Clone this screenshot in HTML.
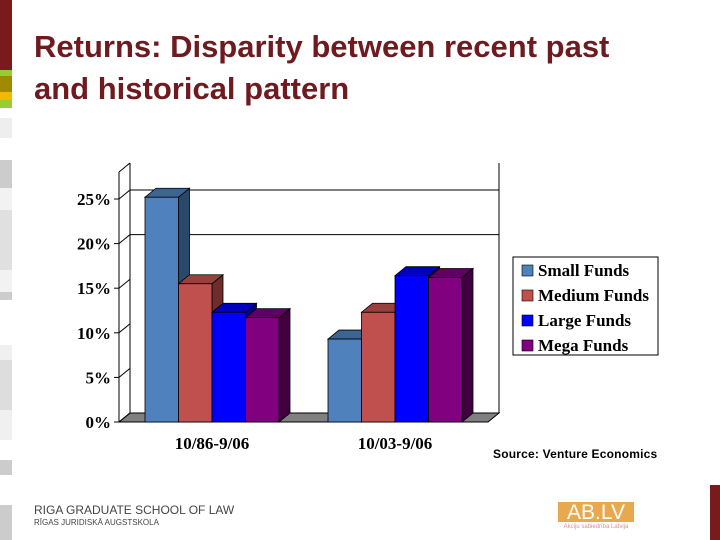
<!DOCTYPE html>
<html><head><meta charset="utf-8"><style>
body{margin:0;width:720px;height:540px;background:#fff;position:relative;overflow:hidden;font-family:"Liberation Sans",sans-serif}
.a{position:absolute}
</style></head><body>
<div class="a" style="left:0;top:0;width:12px;height:540px;background:linear-gradient(#7a1a1a 0 70px,#9c3 70px 76px,#a08a00 76px 92px,#f5b800 92px 100px,#9c3 100px 108px,#fff 108px 118px,#eee 118px 138px,#fff 138px 160px,#ccc 160px 188px,#f2f2f2 188px 210px,#e0e0e0 210px 270px,#f2f2f2 270px 292px,#ccc 292px 300px,#fff 300px 345px,#f0f0f0 345px 360px,#ddd 360px 410px,#f0f0f0 410px 440px,#fff 440px 460px,#ccc 460px 475px,#fff 475px 505px,#ccc 505px 540px)"></div>
<div class="a" style="left:34px;top:26px;font-size:31px;font-weight:bold;color:#6e1a1e;line-height:42px;white-space:nowrap">Returns: Disparity between recent past<br>and historical pattern</div>
<svg class="a" style="left:0;top:0" width="720" height="540">
<g id="c"></g>
</svg>
<div class="a" style="left:493px;top:447px;font-size:12px;font-weight:bold;letter-spacing:0.2px">Source: Venture Economics</div>
<div class="a" style="left:34px;top:505px;font-size:12px;color:#444;line-height:11px">RIGA GRADUATE SCHOOL OF LAW<br><span style="font-size:8px">RĪGAS JURIDISKĀ AUGSTSKOLA</span></div>
<div class="a" style="left:558px;top:502px;width:76px;height:20px;background:#e8a94e;color:#fff;font-size:21px;text-align:center;line-height:21px">AB.LV</div>
<div class="a" style="left:558px;top:524px;width:76px;font-size:6px;color:#c98;text-align:center">Akciju sabiedrība Latvija</div>
<div class="a" style="left:710px;top:485px;width:10px;height:55px;background:#7a1a1a"></div>
<script>
const categories=["10/86-9/06","10/03-9/06"];
const seriesNames=["Small Funds","Medium Funds","Large Funds","Mega Funds"];
const small=[25.2,9.3];
const medium=[15.5,12.3];
const large=[12.3,16.4];
const mega=[11.7,16.2];
const yTicks=[0,5,10,15,20,25];
const series=[small,medium,large,mega];
const colors=[["#4f81bd","#3c6593","#2a4869"],["#c0504d","#99403d","#6e2d2b"],["#0000ff","#0000c0","#00008a"],["#800080","#600060","#400040"]];
const NS="http://www.w3.org/2000/svg",g=document.getElementById('c');
const X0=119,Y0=422,DX=11,DY=-9,PX=8.92,XR=488;
const y=v=>Y0-v*PX;
function el(t,a,p){const e=document.createElementNS(NS,t);for(const k in a)e.setAttribute(k,a[k]);(p||g).appendChild(e);return e;}
let e=el('polygon',{points:`${X0+DX},${Y0+DY} ${XR+DX},${Y0+DY} ${XR},${Y0} ${X0},${Y0}`,fill:'#808080',stroke:'#000'});

el('line',{x1:X0+DX,y1:163,x2:X0+DX,y2:Y0+DY,stroke:'#000'});
el('line',{x1:XR+DX,y1:163,x2:XR+DX,y2:Y0+DY,stroke:'#000'});
el('line',{x1:X0,y1:172,x2:X0,y2:Y0,stroke:'#000'});
el('line',{x1:X0,y1:172,x2:X0+DX,y2:163,stroke:'#000'});
yTicks.forEach(t=>{
 if(t>0&&t>=20){e=el('line',{x1:X0+DX,y1:y(t)+DY,x2:XR+DX,y2:y(t)+DY,stroke:'#000'});}
 el('line',{x1:X0-5,y1:y(t),x2:X0,y2:y(t),stroke:'#000'});
 el('line',{x1:X0,y1:y(t),x2:X0+DX,y2:y(t)+DY,stroke:'#000'});
 e=el('text',{x:X0-8,y:y(t)+6,'text-anchor':'end','font-family':'Liberation Serif','font-weight':'bold','font-size':17});
 e.textContent=t+'%';
});
const gStart=[145,328],bw=33.5;
categories.forEach((c,ci)=>{
 series.forEach((s,si)=>{
  const x=gStart[ci]+si*bw,t=y(s[ci]),col=colors[si];
  const b=el('g',{});
  el('polygon',{points:`${x+bw},${t} ${x+bw+DX},${t+DY} ${x+bw+DX},${Y0+DY} ${x+bw},${Y0}`,fill:col[2],stroke:'#000','stroke-width':.8},b);
  el('polygon',{points:`${x},${t} ${x+DX},${t+DY} ${x+bw+DX},${t+DY} ${x+bw},${t}`,fill:col[1],stroke:'#000','stroke-width':.8},b);
  el('rect',{x:x,y:t,width:bw,height:Y0-t,fill:col[0],stroke:'#000','stroke-width':.8},b);
 });
 e=el('text',{x:gStart[ci]+2*bw,y:449,'text-anchor':'middle','font-family':'Liberation Serif','font-weight':'bold','font-size':17});
 e.textContent=c;
});
const lg=el('g',{});
el('rect',{x:513,y:257,width:145,height:98,fill:'#fff',stroke:'#000'},lg);
seriesNames.forEach((n,i)=>{
 el('rect',{x:522,y:265+i*25,width:11,height:11,fill:colors[i][0],stroke:'#000','stroke-width':.6},lg);
 const t=el('text',{x:538,y:276+i*25,'font-family':'Liberation Serif','font-weight':'bold','font-size':17},lg);
 t.textContent=n;
});
</script>
</body></html>
